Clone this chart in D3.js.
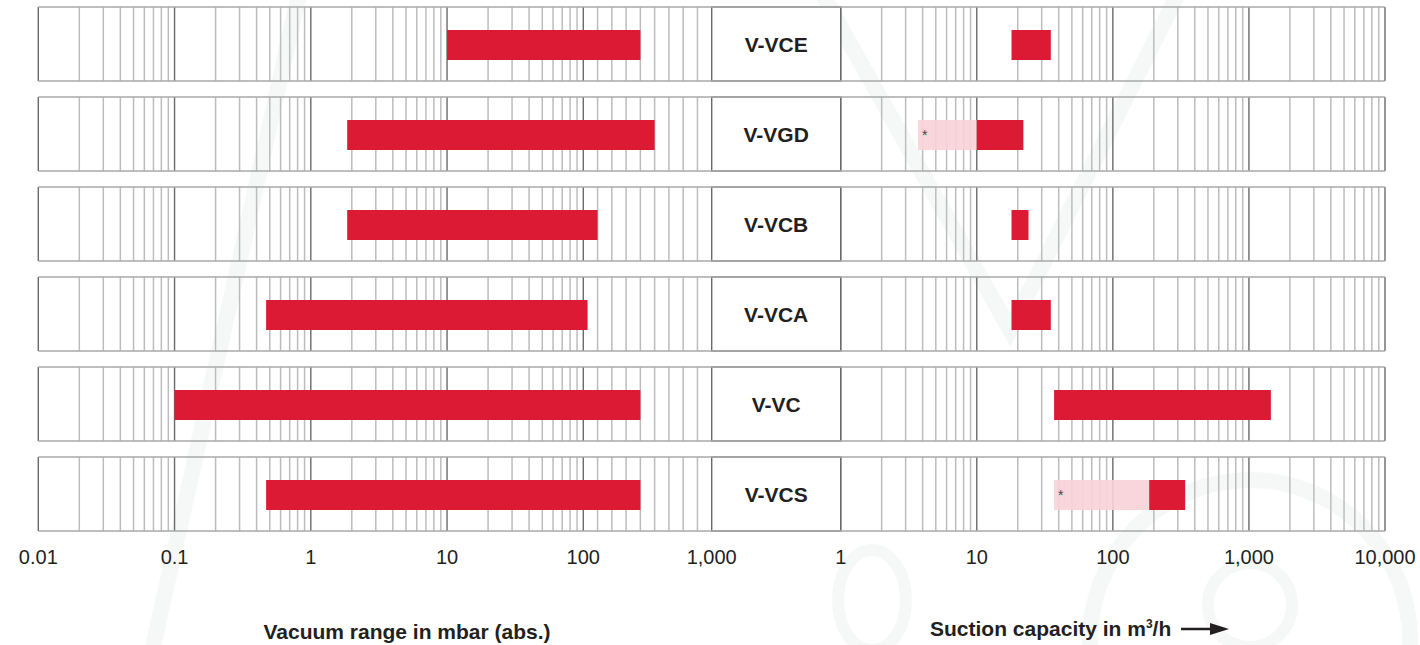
<!DOCTYPE html>
<html>
<head>
<meta charset="utf-8">
<script src="https://cdn.jsdelivr.net/npm/d3@7"></script>
<style>
  body { margin: 0; background: #fff; }
  svg { display: block; }
</style>
</head>
<body>
<svg id="chart"></svg>
<script>
// Products, one row each
const products = ["V-VCE", "V-VGD", "V-VCB", "V-VCA", "V-VC", "V-VCS"];
// Vacuum range in mbar (abs.)
const vacuumMin = [10, 1.85, 1.85, 0.47, 0.1, 0.47];
const vacuumMax = [500, 600, 200, 130, 500, 500];
// Suction capacity in m3/h
const flowMin = [18, 10, 18, 18, 37, 185];
const flowMax = [35, 22, 24, 35, 1450, 340];
// optional extension (pale bar with asterisk), null = none
const flowOptionMin = [null, 3.7, null, null, null, 37];
// Axis ticks
const vacuumTicks = [0.01, 0.1, 1, 10, 100, 1000];
const vacuumTickLabels = ["0.01", "0.1", "1", "10", "100", "1,000"];
const flowTicks = [1, 10, 100, 1000, 10000];
const flowTickLabels = ["1", "10", "100", "1,000", "10,000"];

const width = 1420, height = 645;
const svg = d3.select("#chart").attr("width", width).attr("height", height);

const red = "#dc1a33", pink = "#f8d2d8";
const font = "Liberation Sans, Arial, sans-serif";

// very faint watermark in the background
const wm = svg.append("g").attr("fill", "none").attr("stroke", "#f6f8f7");
wm.append("path").attr("d", "M300,-10 L150,660").attr("stroke-width", 16);
wm.append("path").attr("d", "M820,-10 L1010,330 L1180,-10").attr("stroke-width", 16);
wm.append("ellipse").attr("cx", 872).attr("cy", 600).attr("rx", 34).attr("ry", 50).attr("stroke-width", 12);
wm.append("circle").attr("cx", 1250).attr("cy", 605).attr("r", 42).attr("stroke-width", 12);
wm.append("circle").attr("cx", 1250).attr("cy", 640).attr("r", 160).attr("stroke-width", 16);

// Scales: left panel is log up to 100 mbar, then linear to 1000
const xVacLog = d3.scaleLog().domain([0.01, 100]).range([38.3, 583.3]);
const xVacLin = d3.scaleLinear().domain([100, 1000]).range([583.3, 711.7]);
const xVac = v => v <= 100 ? xVacLog(v) : xVacLin(v);
const xFlow = d3.scaleLog().domain([1, 10000]).range([840.7, 1385]);
const y = d3.scaleBand().domain(products).range([-1, 539])
            .paddingInner(16 / 90).paddingOuter(8 / 90);

// gridline values
const vacMinor = [];
[0.01, 0.1, 1, 10].forEach(d => { for (let k = 2; k <= 9; k++) vacMinor.push(k * d); });
const vacLinMinor = d3.range(200, 1000, 100);
const flowMinor = [];
[1, 10, 100, 1000].forEach(d => { for (let k = 2; k <= 9; k++) flowMinor.push(k * d); });

const rows = svg.selectAll("g.row").data(products).enter().append("g")
  .attr("class", "row")
  .attr("transform", d => `translate(0,${y(d)})`);
const bh = y.bandwidth();

const minorX = vacMinor.map(xVacLog).concat(vacLinMinor.map(xVacLin)).concat(flowMinor.map(xFlow));
const majorX = vacuumTicks.map(xVac).concat(flowTicks.map(xFlow));

rows.selectAll("line.minor").data(minorX).enter().append("line")
  .attr("x1", d => d).attr("x2", d => d).attr("y1", 0).attr("y2", bh)
  .attr("stroke", "#bcbcbf").attr("stroke-width", 1.5);
rows.selectAll("line.major").data(majorX).enter().append("line")
  .attr("x1", d => d).attr("x2", d => d).attr("y1", 0).attr("y2", bh)
  .attr("stroke", "#6a6a6a").attr("stroke-width", 1.4);
rows.append("rect")
  .attr("x", xVac(1000)).attr("y", 0).attr("width", xFlow(1) - xVac(1000)).attr("height", bh)
  .attr("fill", "#fff").attr("stroke", "#6a6a6a").attr("stroke-width", 1.4);
rows.selectAll("line.edge").data([0, bh]).enter().append("line")
  .attr("x1", xVac(0.01)).attr("x2", xFlow(10000)).attr("y1", d => d).attr("y2", d => d)
  .attr("stroke", "#a8a8aa").attr("stroke-width", 1.7);

// bars
const barY = 23, barH = 30;
rows.append("rect")
  .attr("x", (d, i) => xVac(vacuumMin[i])).attr("y", barY)
  .attr("width", (d, i) => xVac(vacuumMax[i]) - xVac(vacuumMin[i])).attr("height", barH)
  .attr("fill", red);
rows.filter((d, i) => flowOptionMin[i] !== null).append("rect")
  .attr("x", d => xFlow(flowOptionMin[products.indexOf(d)])).attr("y", barY)
  .attr("width", d => { const i = products.indexOf(d); return xFlow(flowMin[i]) - xFlow(flowOptionMin[i]); })
  .attr("height", barH).attr("fill", pink).attr("opacity", 0.9);
rows.filter((d, i) => flowOptionMin[i] !== null).append("text")
  .attr("x", d => xFlow(flowOptionMin[products.indexOf(d)]) + 4).attr("y", barY + 20)
  .attr("font-family", font).attr("font-size", 14)
  .attr("fill", "#444").text("*");
rows.append("rect")
  .attr("x", (d, i) => xFlow(flowMin[i])).attr("y", barY)
  .attr("width", (d, i) => xFlow(flowMax[i]) - xFlow(flowMin[i])).attr("height", barH)
  .attr("fill", red);

// product names
rows.append("text")
  .attr("x", (xVac(1000) + xFlow(1)) / 2).attr("y", bh / 2 + 8)
  .attr("text-anchor", "middle")
  .attr("font-family", font).attr("font-weight", "bold")
  .attr("font-size", 21).attr("fill", "#231f20").text(d => d);

// tick labels
svg.selectAll("text.vtick").data(vacuumTicks).enter().append("text")
  .attr("x", d => xVac(d)).attr("y", 564).attr("text-anchor", "middle")
  .attr("font-family", font).attr("font-size", 20).attr("fill", "#231f20")
  .text((d, i) => vacuumTickLabels[i]);
svg.selectAll("text.ftick").data(flowTicks).enter().append("text")
  .attr("x", d => xFlow(d)).attr("y", 564).attr("text-anchor", "middle")
  .attr("font-family", font).attr("font-size", 20).attr("fill", "#231f20")
  .text((d, i) => flowTickLabels[i]);

// axis titles
svg.append("text")
  .attr("x", 407).attr("y", 639).attr("text-anchor", "middle")
  .attr("font-family", font).attr("font-weight", "bold").attr("font-size", 21)
  .attr("fill", "#231f20").text("Vacuum range in mbar (abs.)");
const t2 = svg.append("text")
  .attr("x", 930).attr("y", 636)
  .attr("font-family", font).attr("font-weight", "bold").attr("font-size", 21)
  .attr("fill", "#231f20");
t2.append("tspan").text("Suction capacity in m");
t2.append("tspan").attr("font-size", 12).attr("dy", -8).text("3");
t2.append("tspan").attr("dy", 8).text("/h");
svg.append("line").attr("x1", 1181).attr("x2", 1214).attr("y1", 629).attr("y2", 629)
  .attr("stroke", "#231f20").attr("stroke-width", 2.4);
svg.append("path").attr("d", "M1210,623 L1229,629 L1210,635 Z").attr("fill", "#231f20");
</script>
</body>
</html>
